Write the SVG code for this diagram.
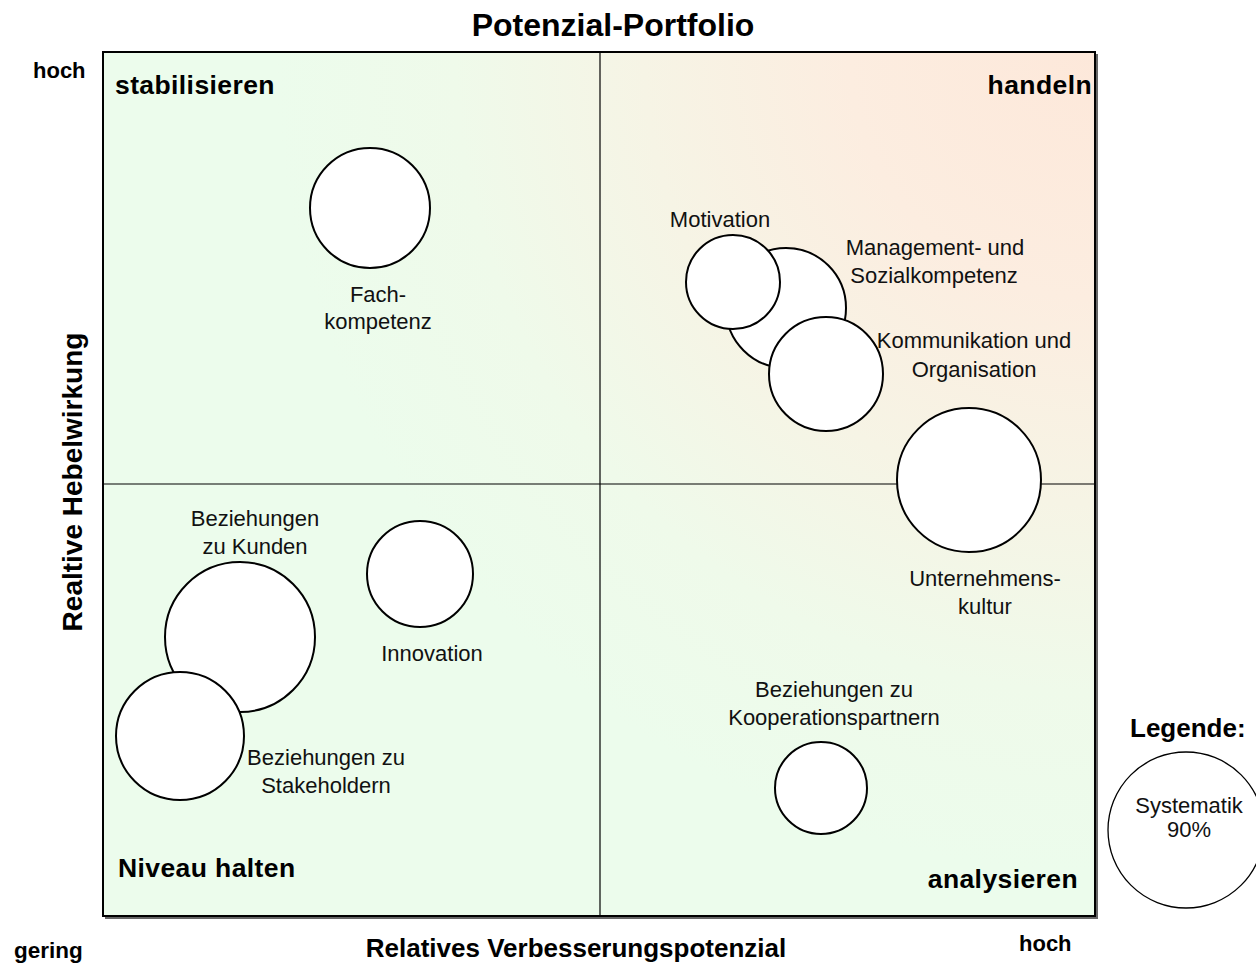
<svg xmlns="http://www.w3.org/2000/svg" width="1256" height="966" viewBox="0 0 1256 966">
  <style>
    .lbl { font-family: "Liberation Sans", Arial, sans-serif; font-size: 22px; fill: #111; text-anchor: middle; }
    .quad { font-family: "Liberation Sans", Arial, sans-serif; font-size: 26.5px; font-weight: bold; fill: #000; letter-spacing: 0.4px; }
    .axis { font-family: "Liberation Sans", Arial, sans-serif; font-weight: bold; fill: #000; }
    .bubble { fill: #fff; stroke: #000; stroke-width: 2; }
    .grid { stroke: #000; stroke-width: 1.2; fill: none; }
  </style>
  <defs>
    <radialGradient id="bg" gradientUnits="userSpaceOnUse" cx="1095" cy="52" r="820">
      <stop offset="0" stop-color="#fde8da"/>
      <stop offset="0.3" stop-color="#fcede0"/>
      <stop offset="0.55" stop-color="#f6f4e5"/>
      <stop offset="0.78" stop-color="#effaea"/>
      <stop offset="1" stop-color="#ecfcec"/>
    </radialGradient>
  </defs>
  <rect width="1256" height="966" fill="#fff"/>

  <!-- title and axis labels -->
  <text class="axis" x="613" y="36" font-size="32" text-anchor="middle">Potenzial-Portfolio</text>
  <text class="axis" x="33" y="78" font-size="22">hoch</text>
  <text class="axis" x="14" y="958" font-size="22.5">gering</text>
  <text class="axis" x="1019" y="951" font-size="22">hoch</text>
  <text class="axis" x="576" y="957" font-size="26" text-anchor="middle">Relatives Verbesserungspotenzial</text>
  <text class="axis" x="0" y="0" font-size="28" text-anchor="middle" transform="translate(82 482) rotate(-90)">Realtive Hebelwirkung</text>

  <!-- frame -->
  <g id="frame">
    <polyline points="1097,54 1097,918 105,918" fill="none" stroke="#666" stroke-width="2"/>
    <rect x="103" y="52" width="992" height="864" fill="url(#bg)" stroke="#000" stroke-width="2"/>
  </g>

  <g id="connectors">
    <line class="grid" x1="600" y1="52" x2="600" y2="916"/>
    <line class="grid" x1="103" y1="484" x2="1095" y2="484"/>
  </g>

  <!-- quadrant labels -->
  <text class="quad" x="115" y="94">stabilisieren</text>
  <text class="quad" x="1092" y="94" text-anchor="end">handeln</text>
  <text class="quad" x="118" y="877">Niveau halten</text>
  <text class="quad" x="1078" y="888" text-anchor="end">analysieren</text>

  <!-- bubbles -->
  <g id="fachkompetenz">
    <circle class="bubble" cx="370" cy="208" r="60"/>
    <text class="lbl" x="378" y="302">Fach-</text>
    <text class="lbl" x="378" y="329">kompetenz</text>
  </g>
  <g id="management">
    <circle class="bubble" cx="786" cy="308" r="60"/>
    <text class="lbl" x="935" y="255">Management- und</text>
    <text class="lbl" x="934" y="283">Sozialkompetenz</text>
  </g>
  <g id="motivation">
    <circle class="bubble" cx="733" cy="282" r="47"/>
    <text class="lbl" x="720" y="227">Motivation</text>
  </g>
  <g id="kommunikation">
    <circle class="bubble" cx="826" cy="374" r="57"/>
    <text class="lbl" x="974" y="348">Kommunikation und</text>
    <text class="lbl" x="974" y="377">Organisation</text>
  </g>
  <g id="unternehmenskultur">
    <circle class="bubble" cx="969" cy="480" r="72"/>
    <text class="lbl" x="985" y="586">Unternehmens-</text>
    <text class="lbl" x="985" y="614">kultur</text>
  </g>
  <g id="kunden">
    <circle class="bubble" cx="240" cy="637" r="75"/>
    <text class="lbl" x="255" y="526">Beziehungen</text>
    <text class="lbl" x="255" y="554">zu Kunden</text>
  </g>
  <g id="stakeholder">
    <circle class="bubble" cx="180" cy="736" r="64"/>
    <text class="lbl" x="326" y="765">Beziehungen zu</text>
    <text class="lbl" x="326" y="793">Stakeholdern</text>
  </g>
  <g id="innovation">
    <circle class="bubble" cx="420" cy="574" r="53"/>
    <text class="lbl" x="432" y="661">Innovation</text>
  </g>
  <g id="kooperation">
    <circle class="bubble" cx="821" cy="788" r="46"/>
    <text class="lbl" x="834" y="697">Beziehungen zu</text>
    <text class="lbl" x="834" y="725">Kooperationspartnern</text>
  </g>

  <!-- legend -->
  <g id="legende">
    <text class="axis" x="1130" y="737" font-size="26">Legende:</text>
    <circle cx="1186" cy="830" r="78" fill="#fff" stroke="#000" stroke-width="1.3"/>
    <text class="lbl" x="1189" y="813" font-size="17.5">Systematik</text>
    <text class="lbl" x="1189" y="837" font-size="17.5">90%</text>
  </g>
</svg>
